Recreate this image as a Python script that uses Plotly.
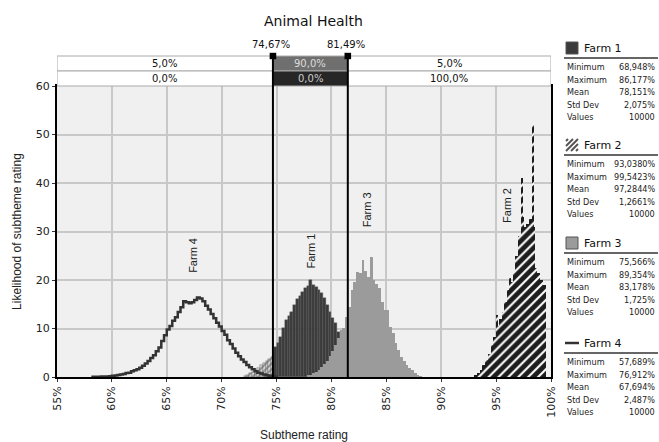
import plotly.graph_objects as go

# ---------------- data ----------------
BIN = 0.25

farm1_start = 72.0
farm1_values = [0.3, 0.5, 0.8, 1.1, 1.5, 1.9, 2.4, 2.9, 3.3, 3.8, 4.2,
                6.2, 7.0, 8.3, 10.1, 11.7, 12.5, 13.5, 14.8, 16.0, 16.6, 17.6, 18.3, 18.8,
                20.0, 19.0, 18.5, 17.9, 17.3, 16.2, 14.8, 13.5, 12.2, 11.1, 9.3, 7.6,
                6.0, 4.8, 3.6, 2.7, 2.0]

farm3_start = 77.75
farm3_values = [0.3, 0.5, 0.8, 1.1, 1.5, 2.0, 2.6, 3.4, 4.4, 5.3, 6.5, 8.0, 9.7,
                10.2, 12.4, 14.5, 17.9, 19.5, 21.7, 21.4, 24.1, 21.9, 20.7, 24.8,
                20.0, 19.2, 18.3, 15.5, 13.8, 13.9, 10.4, 9.0, 7.0, 5.6, 4.2, 3.2,
                2.5, 1.8, 1.4, 0.8, 0.5, 0.2]

farm2_start = 93.0
farm2_values = [0.3, 0.8, 1.5, 2.5, 3.5, 4.8, 6.5, 8.2, 10.5, 12.0, 13.5, 15.5,
                18.0, 19.5, 21.5, 25.0, 29.0, 33.0, 31.0, 31.5, 32.5, 31.0, 22.5,
                21.5, 20.0, 19.0]
farm2_spike_x = [95.1, 96.3, 97.4, 98.4]
farm2_spike_y = [12.8, 20.5, 41.0, 52.0]

farm4_start = 58.0
farm4_values = [0.02, 0.03, 0.05, 0.05, 0.08, 0.1, 0.12, 0.18, 0.25, 0.3, 0.4, 0.5,
                0.6, 0.8, 0.9, 1.2, 1.4, 1.6, 1.9, 2.3, 2.8, 3.3, 3.9, 4.5, 5.3, 6.1,
                7.4, 8.6, 9.8, 10.5, 11.6, 12.3, 13.4, 14.4, 15.6, 15.4, 15.2, 15.4,
                15.9, 16.4, 16.2, 15.6, 14.7, 13.9, 13.0, 12.1, 11.2, 10.4, 9.5, 8.7,
                7.6, 6.8, 5.9, 5.0, 4.3, 3.6, 3.1, 2.5, 2.0, 1.6, 1.2, 0.9, 0.7, 0.5,
                0.35, 0.25, 0.15, 0.1, 0.05]

farm_names = ["Farm 1", "Farm 2", "Farm 3", "Farm 4"]
farm_label_x = [78.1, 96.0, 83.2, 67.4]
farm_label_y = [26.0, 35.3, 34.5, 25.0]

delim_left = 74.67
delim_right = 81.49
delim_labels = ["74,67%", "81,49%"]
band_row1 = ["5,0%", "90,0%", "5,0%"]
band_row2 = ["0,0%", "0,0%", "100,0%"]

stat_labels = ["Minimum", "Maximum", "Mean", "Std Dev", "Values"]
farm_stats = [
    ["68,948%", "86,177%", "78,151%", "2,075%", "10000"],
    ["93,0380%", "99,5423%", "97,2844%", "1,2661%", "10000"],
    ["75,566%", "89,354%", "83,178%", "1,725%", "10000"],
    ["57,689%", "76,912%", "67,694%", "2,487%", "10000"],
]

x_ticks = [55, 60, 65, 70, 75, 80, 85, 90, 95, 100]
x_ticktext = [f"{v}%" for v in x_ticks]
y_ticks = [0, 10, 20, 30, 40, 50, 60]

title = "Animal Health"
x_title = "Subtheme rating"
y_title = "Likelihood of subtheme rating"

# ---------------- layout geometry ----------------
W, H = 659, 442
L, R, T, B = 57, 551, 86, 377


def px(x):
    return (x - L) / (R - L)


def py(y):
    return (B - y) / (B - T)


def centers(start, vals):
    return [start + BIN * (i + 0.5) for i in range(len(vals))]


TICKFONT = "DejaVu Sans"
PANELFONT = "DejaVu Sans Condensed, Liberation Sans Narrow, DejaVu Sans"
ARIAL = "Liberation Sans"


def ann(x, y, text, xref="paper", yref="paper", xanchor="center", size=10,
        color="#111", family=TICKFONT, **kw):
    d = dict(x=x, y=y, xref=xref, yref=yref, text=text, showarrow=False,
             xanchor=xanchor, yanchor="middle",
             font=dict(family=family, size=size, color=color))
    d.update(kw)
    return d


fig = go.Figure()

# Farm 1 (dark bars, tail left of delimiter hatched)
f1x = centers(farm1_start, farm1_values)
f1_hatch = [c < delim_left for c in f1x]
fig.add_trace(go.Bar(
    x=f1x, y=farm1_values, width=BIN,
    marker=dict(
        color=["#e4e4e4" if h else "#3b3b3b" for h in f1_hatch],
        line=dict(width=0.4, color="#555555"),
        pattern=dict(shape=["/" if h else "" for h in f1_hatch],
                     fgcolor="#2e2e2e", size=4, solidity=0.6, fillmode="overlay"),
    ),
    name="Farm 1", showlegend=False, hoverinfo="skip"))

# Farm 3 (light gray bars)
fig.add_trace(go.Bar(
    x=centers(farm3_start, farm3_values), y=farm3_values, width=BIN,
    marker=dict(color="#9b9b9b", line=dict(width=0)),
    name="Farm 3", showlegend=False, hoverinfo="skip"))

# Farm 2 (black hatched bars)
f2pattern = dict(shape="/", fgcolor="white", bgcolor="#1c1c1c", size=7,
                 solidity=0.3, fillmode="replace")
fig.add_trace(go.Bar(
    x=centers(farm2_start, farm2_values), y=farm2_values, width=BIN,
    marker=dict(color="#1c1c1c", line=dict(width=0), pattern=f2pattern),
    name="Farm 2", showlegend=False, hoverinfo="skip"))
fig.add_trace(go.Bar(
    x=farm2_spike_x, y=farm2_spike_y, width=0.09,
    marker=dict(color="#1c1c1c", line=dict(width=0), pattern=f2pattern),
    name="Farm 2 spikes", showlegend=False, hoverinfo="skip"))

# Farm 4 (step line)
fig.add_trace(go.Scatter(
    x=centers(farm4_start, farm4_values), y=farm4_values, mode="lines",
    line=dict(shape="hvh", color="#333333", width=2.5),
    name="Farm 4", showlegend=False, hoverinfo="skip"))

shapes = []
annotations = []

# Title
annotations.append(ann(px(313), py(21), title, size=14))

# Delimiter band above the plot
band_top, band_mid, band_bot = py(56), py(71), py(86)
sections = [(55, delim_left), (delim_left, delim_right), (delim_right, 100)]
row1_bg = ["white", "#6f6f6f", "white"]
row2_bg = ["white", "#262626", "white"]
row1_fc = ["#111", "#dddddd", "#111"]
row2_fc = ["#111", "#cccccc", "#111"]
for i, (a, b) in enumerate(sections):
    shapes.append(dict(type="rect", xref="x", yref="paper", x0=a, x1=b,
                       y0=band_mid, y1=band_top, fillcolor=row1_bg[i],
                       line=dict(color="#aaaaaa", width=1), layer="above"))
    shapes.append(dict(type="rect", xref="x", yref="paper", x0=a, x1=b,
                       y0=band_bot, y1=band_mid, fillcolor=row2_bg[i],
                       line=dict(color="#aaaaaa", width=1), layer="above"))
    annotations.append(ann((a + b) / 2, (band_mid + band_top) / 2, band_row1[i],
                           xref="x", color=row1_fc[i]))
    annotations.append(ann((a + b) / 2, (band_bot + band_mid) / 2, band_row2[i],
                           xref="x", color=row2_fc[i]))

# Delimiter lines, markers and labels
for d, lab in zip([delim_left, delim_right], delim_labels):
    shapes.append(dict(type="line", xref="x", yref="paper", x0=d, x1=d,
                       y0=0, y1=band_top, line=dict(color="black", width=2),
                       layer="above"))
    shapes.append(dict(type="rect", xref="x", yref="paper",
                       x0=d - 0.3, x1=d + 0.3, y0=band_top - 0.011,
                       y1=band_top + 0.011, fillcolor="black",
                       line=dict(width=0), layer="above"))
    annotations.append(ann(d, py(44), lab, xref="x", xshift=-2))

# Farm labels inside plot
for name, lx, ly in zip(farm_names, farm_label_x, farm_label_y):
    annotations.append(ann(lx, ly, name, xref="x", yref="y", size=11,
                           color="#222", family=ARIAL, textangle=-90))

# Right-hand statistics panel
header_y = [48, 145, 243, 343]
icon_colors = ["#3b3b3b", None, "#9b9b9b", None]
for k, (name, stats) in enumerate(zip(farm_names, farm_stats)):
    hy = header_y[k]
    if k in (0, 2):
        shapes.append(dict(type="rect", xref="paper", yref="paper",
                           x0=px(566), x1=px(578), y0=py(hy + 6), y1=py(hy - 6),
                           fillcolor=icon_colors[k], line=dict(color="#555", width=1)))
    elif k == 1:
        for j in range(-2, 3):
            x0, y0 = 566 + j * 5, hy + 6
            x1, y1 = x0 + 12, hy - 6
            if x0 < 566:
                y0 = y0 - (566 - x0)
                x0 = 566
            if x1 > 578:
                y1 = y1 + (x1 - 578)
                x1 = 578
            if x1 > x0:
                shapes.append(dict(type="line", xref="paper", yref="paper",
                                   x0=px(x0), x1=px(x1), y0=py(y0), y1=py(y1),
                                   line=dict(color="#555", width=2)))
    else:
        shapes.append(dict(type="line", xref="paper", yref="paper",
                           x0=px(565), x1=px(579), y0=py(hy), y1=py(hy),
                           line=dict(color="#333", width=2.5)))
    annotations.append(ann(px(582), py(hy), name, xanchor="left", size=11))
    shapes.append(dict(type="line", xref="paper", yref="paper",
                       x0=px(564), x1=px(658), y0=py(hy + 10), y1=py(hy + 10),
                       line=dict(color="#333", width=1.5)))
    for r, (sl, sv) in enumerate(zip(stat_labels, stats)):
        ry = hy + 19 + 12.5 * r
        annotations.append(ann(px(565), py(ry), sl, xanchor="left", size=9,
                               color="#222", family=PANELFONT))
        annotations.append(ann(px(657), py(ry), sv, xanchor="right", size=9,
                               color="#222", family=PANELFONT))

fig.update_layout(
    width=W, height=H,
    margin=dict(l=L, r=W - R, t=T, b=H - B, autoexpand=False),
    paper_bgcolor="white", plot_bgcolor="#f0f0f0",
    barmode="overlay", bargap=0, showlegend=False,
    shapes=shapes, annotations=annotations,
    xaxis=dict(range=[55, 100], tickvals=x_ticks, ticktext=x_ticktext,
               tickangle=-90, showgrid=True, gridcolor="#c8c8c8", gridwidth=2,
               showline=True, linecolor="black", linewidth=2, mirror=True,
               ticks="outside", ticklen=3, tickcolor="#333", zeroline=False,
               automargin=False,
               tickfont=dict(family=TICKFONT, size=11, color="#222"),
               title=dict(text=x_title, standoff=14,
                          font=dict(family=ARIAL, size=12, color="#222"))),
    yaxis=dict(range=[0, 60], tickvals=y_ticks, showgrid=True,
               gridcolor="#c8c8c8", gridwidth=2, showline=True,
               linecolor="black", linewidth=2, mirror=True, zeroline=False,
               ticks="outside", ticklen=3, tickcolor="#333", automargin=False,
               tickfont=dict(family=TICKFONT, size=11, color="#222"),
               title=dict(text=y_title, standoff=12,
                          font=dict(family=ARIAL, size=12, color="#222"))),
)

fig.write_html("out.html", config={"displayModeBar": False},
               post_script="document.body.style.margin='0';")
